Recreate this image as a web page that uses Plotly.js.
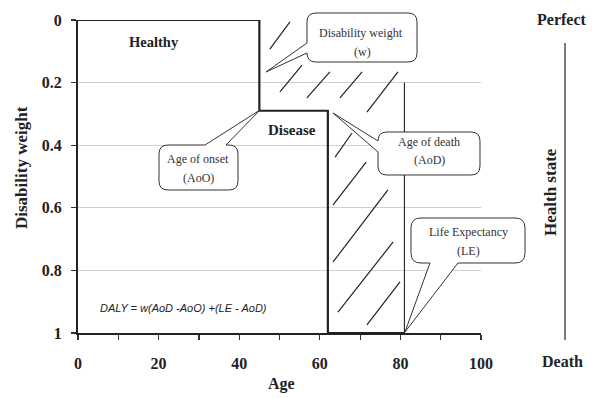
<!DOCTYPE html>
<html>
<head>
<meta charset="utf-8">
<script src="https://cdn.plot.ly/plotly-3.0.1.min.js"></script>
<style>html,body{margin:0;padding:0;background:#fff;}#chart{width:597px;height:398px;}</style>
</head>
<body>
<div id="chart"></div>
<script>
// ---- Data ----
const ageOnset = 45;
const ageDeath = 62;
const lifeExpectancy = 81;
const disabilityWeight = 0.29;
const healthyWeight = 0;
const deathWeight = 1;

const stepAge = [0, ageOnset, ageOnset, ageDeath, ageDeath, lifeExpectancy];
const stepWeight = [healthyWeight, healthyWeight, disabilityWeight, disabilityWeight, deathWeight, deathWeight];

const leLineAge = [lifeExpectancy, lifeExpectancy];
const leLineWeight = [0.2, deathWeight];

// hatch segments (start / end)
const hatchAgeStart    = [47.6, 50.1, 56.8, 65.0, 71.7, 63.8, 63.3, 63.3, 64.5, 71.7];
const hatchWeightStart = [0.093, 0.230, 0.249, 0.249, 0.294, 0.438, 0.591, 0.773, 0.933, 0.974];
const hatchAgeEnd      = [52.6, 55.6, 62.5, 70.5, 79.4, 68.0, 71.5, 76.9, 78.2, 79.9];
const hatchWeightEnd   = [0.006, 0.144, 0.166, 0.166, 0.166, 0.361, 0.454, 0.543, 0.709, 0.837];

const xTickVals = [0, 20, 40, 60, 80, 100];
const xTickText = ['0', '20', '40', '60', '80', '100'];
const yTickVals = [0, 0.2, 0.4, 0.6, 0.8, 1];
const yTickText = ['0', '0.2', '0.4', '0.6', '0.8', '1'];

// ---- Build hatch trace ----
const hx = [], hy = [];
for (let i = 0; i < hatchAgeStart.length; i++) {
  hx.push(hatchAgeStart[i], hatchAgeEnd[i], null);
  hy.push(hatchWeightStart[i], hatchWeightEnd[i], null);
}

const traces = [
  {x: hx, y: hy, mode: 'lines', line: {color: '#222', width: 1.2}, hoverinfo: 'skip', showlegend: false, connectgaps: false},
  {x: leLineAge, y: leLineWeight, mode: 'lines', line: {color: '#222', width: 1.1}, hoverinfo: 'skip', showlegend: false},
  {x: stepAge, y: stepWeight, mode: 'lines', line: {color: '#222', width: 2.2}, cliponaxis: false, hoverinfo: 'skip', showlegend: false}
];

// ---- Layout helpers ----
const M = {l: 78, r: 116, t: 20, b: 65};
const FW = 597, FH = 398;
const W = FW - M.l - M.r, H = FH - M.t - M.b;
function P(px, py) { return [(px - M.l) / W, 1 - (py - M.t) / H]; }
function ps(px, py) { const p = P(px, py); return p[0].toFixed(4) + ',' + p[1].toFixed(4); }

function bubblePath(b) {
  const {x0, y0, x1, y1, r} = b;
  const tail = () => ' L' + ps(b.a[0], b.a[1]) + ' L' + ps(b.tip[0], b.tip[1]) + ' L' + ps(b.c[0], b.c[1]);
  let d = 'M' + ps(x0 + r, y0);
  if (b.side === 'top') d += tail();
  d += ' L' + ps(x1 - r, y0) + ' Q' + ps(x1, y0) + ' ' + ps(x1, y0 + r);
  if (b.side === 'right') d += tail();
  d += ' L' + ps(x1, y1 - r) + ' Q' + ps(x1, y1) + ' ' + ps(x1 - r, y1);
  if (b.side === 'bottom') d += tail();
  d += ' L' + ps(x0 + r, y1) + ' Q' + ps(x0, y1) + ' ' + ps(x0, y1 - r);
  if (b.side === 'left') d += tail();
  d += ' L' + ps(x0, y0 + r) + ' Q' + ps(x0, y0) + ' ' + ps(x0 + r, y0) + ' Z';
  return d;
}

const bubbles = [
  {x0: 307, y0: 13, x1: 417, y1: 62, r: 9, side: 'left', a: [307, 53], tip: [266, 72], c: [307, 43],
   lines: [['Disability weight', 361, 33], ['(w)', 362, 52]]},
  {x0: 159, y0: 145, x1: 238, y1: 190, r: 9, side: 'top', a: [205, 145], tip: [260, 110], c: [226, 145],
   lines: [['Age of onset', 198, 159], ['(AoO)', 198, 178]]},
  {x0: 378, y0: 132, x1: 480, y1: 175, r: 9, side: 'left', a: [378, 152], tip: [333, 113], c: [378, 141],
   lines: [['Age of death', 429, 142], ['(AoD)', 429, 160]]},
  {x0: 411, y0: 218, x1: 525, y1: 263, r: 10, side: 'bottom', a: [458, 263], tip: [405, 332], c: [430, 263],
   lines: [['Life Expectancy', 468, 232], ['(LE)', 468, 251]]}
];

const shapes = [];
const annotations = [];
const serif = 'Liberation Serif, Times New Roman, serif';

bubbles.forEach(b => {
  shapes.push({type: 'path', xref: 'paper', yref: 'paper', path: bubblePath(b),
    fillcolor: 'white', line: {color: '#333', width: 1}, layer: 'above'});
  b.lines.forEach(l => {
    const p = P(l[1], l[2]);
    annotations.push({xref: 'paper', yref: 'paper', x: p[0], y: p[1], xanchor: 'center', yanchor: 'middle',
      text: l[0], showarrow: false, font: {family: serif, size: 12, color: '#333'}});
  });
});

// right-side health state line
(function(){
  const a = P(565, 43), b = P(565, 340);
  shapes.push({type: 'line', xref: 'paper', yref: 'paper', x0: a[0], y0: a[1], x1: b[0], y1: b[1],
    line: {color: '#222', width: 1.2}});
})();

function addText(text, px, py, size, opts) {
  const p = P(px, py);
  annotations.push(Object.assign({xref: 'paper', yref: 'paper', x: p[0], y: p[1], xanchor: 'center', yanchor: 'middle',
    text: text, showarrow: false, font: {family: serif, size: size, color: '#222', weight: 'bold'}}, opts || {}));
}
addText('Healthy', 154, 42, 14.5);
addText('Disease', 292, 130, 15);
addText('Perfect', 562, 19, 16);
addText('Death', 562, 361, 16);
addText('Health state', 550, 192, 17, {textangle: -90});
addText('Disability weight', 22, 168, 17, {textangle: -90});
addText('Age', 281, 384, 16);
addText('<i>DALY = w(AoD -AoO) +(LE - AoD)</i>', 183, 308, 11,
  {font: {family: 'Liberation Sans, Arial, sans-serif', size: 11, color: '#222', style: 'italic'}});

const layout = {
  width: FW, height: FH,
  margin: M,
  paper_bgcolor: 'white', plot_bgcolor: 'white',
  showlegend: false,
  xaxis: {
    range: [0, 100], tickvals: xTickVals, ticktext: xTickText,
    showgrid: false, zeroline: false,
    showline: true, linecolor: '#222', linewidth: 2,
    ticks: 'outside', ticklen: 5, tickcolor: '#333', tickwidth: 1.2,
    minor: {dtick: 10, ticks: 'outside', ticklen: 5, tickcolor: '#333', tickwidth: 1.2, showgrid: false},
    ticklabelstandoff: 10,
    tickfont: {family: serif, size: 16, color: '#222', weight: 'bold'}
  },
  yaxis: {
    range: [1, 0], tickvals: yTickVals, ticktext: yTickText,
    showgrid: true, gridcolor: '#cfcfcf', gridwidth: 1, zeroline: false,
    showline: true, linecolor: '#222', linewidth: 2,
    ticks: 'outside', ticklen: 5, tickcolor: '#333', tickwidth: 1.2,
    ticklabelstandoff: 6,
    tickfont: {family: serif, size: 16, color: '#222', weight: 'bold'}
  },
  shapes: shapes,
  annotations: annotations
};

Plotly.newPlot('chart', traces, layout, {staticPlot: true, displayModeBar: false});
</script>
</body>
</html>
